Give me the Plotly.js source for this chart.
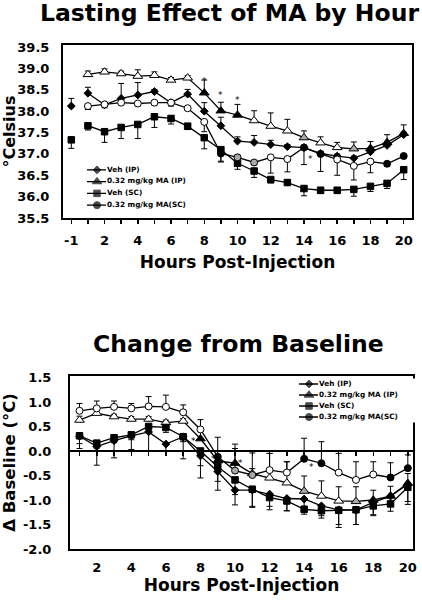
<!DOCTYPE html>
<html><head><meta charset="utf-8">
<script src="https://cdn.plot.ly/plotly-3.0.1.min.js"></script>
<style>html,body{margin:0;padding:0;background:#fff}#chart{width:422px;height:600px}</style>
</head><body><div id="chart"></div>
<script>
// ---------- DATA ----------
const seriesNames = ['Veh (IP)', '0.32 mg/kg MA (IP)', 'Veh (SC)', '0.32 mg/kg MA(SC)'];
const topCategories = ['-1','1','2','3','4','5','6','7','8','9','10','11','12','13','14','15','16','17','18','19','20'];
const hours = [1,2,3,4,5,6,7,8,9,10,11,12,13,14,15,16,17,18,19,20];
const topYTicks = [35.5,36.0,36.5,37.0,37.5,38.0,38.5,39.0,39.5];
const bottomYTicks = [-2.0,-1.5,-1.0,-0.5,0.0,0.5,1.0,1.5];
const bottomYTickText = ['-2.0','-1.5','-1.0','-0.5','0.0','0.5','1.0','1.5'];
const bottomXTicks = [2,4,6,8,10,12,14,16,18,20];

// pre-injection baseline (hour -1)
const baselineHour = ['-1'];
const baseVehIP = [38.12];
const baseVehIPErr = [0.18];
const baseVehSC = [37.33];
const baseVehSCErr = [0.2];

// Top chart: temperature (°C) by hour
const tempVehIP = [38.42,38.15,38.30,38.38,38.46,38.20,38.40,38.00,37.66,37.30,37.27,37.22,37.17,37.15,37.01,36.95,36.90,37.05,37.20,37.45];
const tempVehIPErr = [0.14,0.05,0.35,0.29,0.05,0.05,0.11,0.20,0.20,0.10,0.16,0.10,0.05,0.05,0.05,0.05,0.05,0.08,0.05,0.06];
const tempMAIP = [38.86,38.92,38.88,38.82,38.84,38.73,38.78,38.43,38.01,37.91,37.78,37.65,37.54,37.38,37.26,37.15,37.12,37.13,37.27,37.48];
const tempMAIPErr = [0.08,0.07,0.06,0.15,0.08,0.06,0.05,0.30,0.20,0.25,0.23,0.31,0.27,0.16,0.14,0.12,0.16,0.16,0.18,0.20];
const tempVehSC = [37.66,37.52,37.62,37.69,37.87,37.83,37.65,37.38,37.10,36.78,36.60,36.40,36.33,36.19,36.15,36.15,36.17,36.24,36.31,36.63];
const tempVehSCErr = [0.10,0.25,0.26,0.33,0.25,0.13,0.08,0.26,0.27,0.14,0.15,0.08,0.06,0.17,0.08,0.08,0.16,0.12,0.12,0.23];
const tempMASC = [38.12,38.16,38.20,38.18,38.20,38.20,38.07,37.75,37.01,36.92,36.80,36.92,36.88,37.15,37.00,36.87,36.72,36.82,36.77,36.95];
const tempMASCErr = [0.08,0.08,0.05,0.05,0.05,0.08,0.05,0.23,0.20,0.05,0.05,0.37,0.30,0.40,0.41,0.37,0.33,0.26,0.06,0.05];
const topStarHours = [8, 9, 10, 14.4];
const topStarValues = [38.75, 38.42, 38.32, 36.92];

// Bottom chart: change from baseline (°C)
const deltaVehIP = [0.30,0.09,0.21,0.31,0.39,0.14,0.29,-0.10,-0.42,-0.80,-0.80,-0.88,-0.97,-0.98,-1.12,-1.20,-1.20,-1.05,-0.92,-0.68];
const deltaVehIPErr = [0.15,0.38,0.35,0.28,0.38,0.15,0.45,0.45,0.38,0.30,0.35,0.25,0.25,0.15,0.20,0.30,0.30,0.25,0.20,0.35];
const deltaMAIP = [0.63,0.77,0.70,0.65,0.65,0.58,0.61,0.25,-0.20,-0.25,-0.46,-0.55,-0.65,-0.82,-0.92,-1.02,-1.03,-1.00,-0.92,-0.66];
const deltaMAIPErr = [0.08,0.05,0.05,0.05,0.05,0.05,0.05,0.20,0.10,0.39,0.10,0.50,0.43,0.31,0.31,0.29,0.30,0.20,0.20,0.20];
const deltaVehSC = [0.31,0.16,0.27,0.33,0.50,0.48,0.29,0.00,-0.32,-0.59,-0.78,-0.95,-1.02,-1.19,-1.22,-1.21,-1.20,-1.12,-1.08,-0.74];
const deltaVehSCErr = [0.26,0.10,0.10,0.10,0.10,0.10,0.10,0.30,0.30,0.30,0.35,0.25,0.20,0.10,0.15,0.35,0.30,0.20,0.15,0.35];
const deltaMASC = [0.82,0.87,0.90,0.87,0.91,0.90,0.79,0.44,-0.12,-0.40,-0.49,-0.39,-0.44,-0.16,-0.25,-0.44,-0.59,-0.48,-0.54,-0.35];
const deltaMASCErr = [0.15,0.15,0.12,0.10,0.20,0.24,0.15,0.20,0.40,0.45,0.45,0.34,0.22,0.42,0.44,0.39,0.37,0.26,0.30,0.27];
const bottomStarHours = [7.62, 8.74, 10.3, 14.4];
const bottomStarValues = [0.24, -0.13, -0.2, -0.29];

// marker fill state per hour for MA groups (0 open, 1 grey, 2 filled)
const maIPFillState = [0,0,0,0,0,0,0,2,2,2,0,0,0,1,0,0,1,2,2,2];
const maSCFillState = [0,0,0,0,0,0,0,0,2,1,1,0,0,2,2,0,0,0,2,2];

// ---------- STYLE ----------
const FONT = 'DejaVu Sans, Liberation Sans, Arial, sans-serif';
const fillColors = ['white', '#a9a9a9', 'black'];
const symbols = ['diamond', 'triangle-up', 'square', 'circle'];
const sizes = [6, 8.5, 6.5, 7];

function errUp(arr) { return {type:'data', symmetric:false, array:arr, arrayminus:arr.map(()=>0), color:'black', thickness:1, width:3}; }
function errDown(arr) { return {type:'data', symmetric:false, array:arr.map(()=>0), arrayminus:arr, color:'black', thickness:1, width:3}; }

function series(x, y, err, idx, fill, xa, ya) {
  return {
    type:'scatter', mode:'lines+markers', x:x, y:y, xaxis:xa, yaxis:ya,
    name: seriesNames[idx], hoverinfo:'skip', cliponaxis:false,
    line:{color:'black', width:1.3},
    marker:{symbol:symbols[idx], size:sizes[idx], color: fill, line:{color:'black', width:1}},
    error_y: err
  };
}

const topX = hours.map(String);
const traces = [];
// top chart (draw order: triangle, diamond, square, circle)
traces.push(series(topX, tempMAIP, errUp(tempMAIPErr), 1, maIPFillState.map(s=>fillColors[s]), 'x', 'y'));
traces.push(series(topX, tempVehIP, errUp(tempVehIPErr), 0, 'black', 'x', 'y'));
traces.push(series(topX, tempVehSC, errDown(tempVehSCErr), 2, 'black', 'x', 'y'));
traces.push(series(topX, tempMASC, errDown(tempMASCErr), 3, maSCFillState.map(s=>fillColors[s]), 'x', 'y'));
traces.push(series(baselineHour, baseVehIP, errUp(baseVehIPErr), 0, 'black', 'x', 'y'));
traces.push(series(baselineHour, baseVehSC, errDown(baseVehSCErr), 2, 'black', 'x', 'y'));
// bottom chart
traces.push(series(hours, deltaMAIP, errUp(deltaMAIPErr), 1, maIPFillState.map(s=>fillColors[s]), 'x2', 'y2'));
traces.push(series(hours, deltaVehIP, errDown(deltaVehIPErr), 0, 'black', 'x2', 'y2'));
traces.push(series(hours, deltaVehSC, errDown(deltaVehSCErr), 2, 'black', 'x2', 'y2'));
traces.push(series(hours, deltaMASC, errUp(deltaMASCErr), 3, maSCFillState.map(s=>fillColors[s]), 'x2', 'y2'));
// zero-line tick axis holder
traces.push({type:'scatter', mode:'markers', x:[], y:[], xaxis:'x3', yaxis:'y2', hoverinfo:'skip'});

// custom compact legends (one per chart)
function legendTraces(xa, ya) {
  const out = [];
  seriesNames.forEach((nm, i) => {
    out.push({type:'scatter', mode:'lines+markers', x:[0, 10, 19], y:[i, i, i], xaxis:xa, yaxis:ya,
      hoverinfo:'skip', cliponaxis:false, line:{color:'black', width:1.3},
      marker:{symbol:symbols[i], size:[0, sizes[i], 0], color:'black', line:{color:'black', width:1}}});
  });
  out.push({type:'scatter', mode:'text', x:seriesNames.map(()=>20), y:seriesNames.map((_, i)=>i),
    text:seriesNames, textposition:'middle right', xaxis:xa, yaxis:ya, hoverinfo:'skip', cliponaxis:false,
    textfont:{family:FONT, size:7.3, color:'black', weight:'bold'}});
  return out;
}
traces.push(...legendTraces('x4', 'y4'));
traces.push(...legendTraces('x5', 'y5'));

const axisBase = {showline:true, mirror:true, linewidth:2, linecolor:'black', showgrid:false, zeroline:false,
  tickcolor:'black', automargin:false, tickfont:{family:FONT, size:13, color:'black', weight:'bold'}};
const hidden = {visible:false, showgrid:false, zeroline:false, fixedrange:true};

function stars(xs, ys, xref, yref) {
  return xs.map((x, i) => ({x:x, y:ys[i], xref:xref, yref:yref, text:'*', showarrow:false,
    font:{family:FONT, size:9, color:'#000000'}, yshift:-2}));
}

const layout = {
  width:422, height:600, margin:{l:0, r:0, t:0, b:0},
  paper_bgcolor:'white', plot_bgcolor:'white', showlegend:false,
  font:{family:FONT, color:'black'},
  xaxis: Object.assign({}, axisBase, {
    domain:[63/422, 412/422], anchor:'y', type:'category', categoryorder:'array', categoryarray:topCategories,
    range:[-0.5, 20.5], tickvals:topCategories, ticktext:topCategories.map((c, i) => i % 2 === 0 ? c : ''),
    ticks:'outside', ticklen:4, tickwidth:1.5, ticklabelstandoff:5,
    title:{text:'Hours Post-Injection', font:{family:FONT, size:17, color:'black', weight:'bold'}, standoff:10}
  }),
  yaxis: Object.assign({}, axisBase, {
    domain:[1 - 218/600, 1 - 45/600], anchor:'x', range:[35.5, 39.55], tickvals:topYTicks,
    ticktext:topYTicks.map(v => v.toFixed(1)), ticks:'', ticklabelstandoff:9,
    title:{text:'°Celsius', font:{family:FONT, size:16, color:'black', weight:'bold'}, standoff:3}
  }),
  xaxis2: Object.assign({}, axisBase, {
    domain:[70/422, 413/422], anchor:'y2', range:[0.45, 20.3], tickvals:bottomXTicks,
    ticktext:bottomXTicks.map(String), ticks:'', ticklabelstandoff:5,
    title:{text:'Hours Post-Injection', font:{family:FONT, size:17, color:'black', weight:'bold'}, standoff:5}
  }),
  yaxis2: Object.assign({}, axisBase, {
    domain:[1 - 549/600, 1 - 376/600], anchor:'x2', range:[-2.0, 1.53], tickvals:bottomYTicks,
    ticktext:bottomYTickText, ticks:'', ticklabelstandoff:14,
    title:{text:'Δ Baseline (°C)', font:{family:FONT, size:16.5, color:'black', weight:'bold'}, standoff:3}
  }),
  xaxis3: {overlaying:'x2', anchor:'free', position:1 - 451/600, range:[0.45, 20.3], tickvals:hours,
    ticks:'outside', ticklen:4, tickwidth:1.5, tickcolor:'black', showticklabels:false,
    showline:true, linewidth:2, linecolor:'black', showgrid:false, zeroline:false},
  xaxis4: Object.assign({}, hidden, {domain:[87/422, 206/422], range:[0, 119], anchor:'y4'}),
  yaxis4: Object.assign({}, hidden, {domain:[1 - 211/600, 1 - 164/600], range:[3.5, -0.5], anchor:'x4'}),
  xaxis5: Object.assign({}, hidden, {domain:[299/422, 418/422], range:[0, 119], anchor:'y5'}),
  yaxis5: Object.assign({}, hidden, {domain:[1 - 422.5/600, 1 - 378.5/600], range:[3.5, -0.5], anchor:'x5'}),
  annotations: [
    {text:'Lasting Effect of MA by Hour', xref:'paper', yref:'paper', x:229/422, y:1 - 13/600,
      xanchor:'center', yanchor:'middle', showarrow:false, font:{family:FONT, size:23.5, color:'black', weight:'bold'}},
    {text:'Change from Baseline', xref:'paper', yref:'paper', x:238/422, y:1 - 344/600,
      xanchor:'center', yanchor:'middle', showarrow:false, font:{family:FONT, size:23.5, color:'black', weight:'bold'}}
  ].concat(stars(topStarHours, topStarValues, 'x', 'y'), stars(bottomStarHours, bottomStarValues, 'x2', 'y2'))
};

Plotly.newPlot('chart', traces, layout, {staticPlot:true, displayModeBar:false});
</script>
</body></html>
